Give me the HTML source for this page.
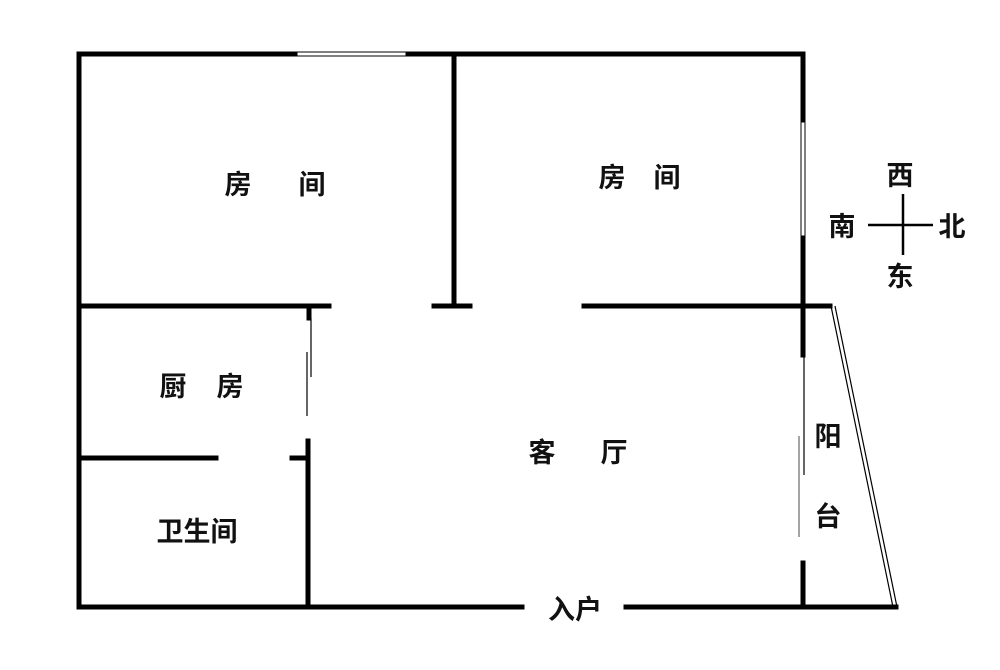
<!DOCTYPE html>
<html><head><meta charset="utf-8"><style>
html,body{margin:0;padding:0;background:#fff;width:1000px;height:670px;overflow:hidden}
text{font-family:"Liberation Sans","Noto Sans CJK SC",sans-serif;font-weight:bold;font-size:27px;fill:#111;text-anchor:middle;dominant-baseline:central}
</style></head><body>
<svg width="1000" height="670" viewBox="0 0 1000 670" xmlns="http://www.w3.org/2000/svg">
<g stroke="#000" stroke-width="5" fill="none" stroke-linecap="square">
<line x1="79" y1="54" x2="297" y2="54"/>
<line x1="406" y1="54" x2="803" y2="54"/>
<line x1="79" y1="54" x2="79" y2="607"/>
<line x1="803" y1="54" x2="803" y2="122"/>
<line x1="803" y1="236" x2="803" y2="355"/>
<line x1="803" y1="563" x2="803" y2="607"/>
<line x1="79" y1="306" x2="329" y2="306"/>
<line x1="434" y1="306" x2="470" y2="306"/>
<line x1="584" y1="306" x2="830" y2="306"/>
<line x1="454" y1="54" x2="454" y2="306"/>
<line x1="309" y1="306" x2="309" y2="318"/>
<line x1="308" y1="441" x2="308" y2="607"/>
<line x1="79" y1="458" x2="216" y2="458"/>
<line x1="292" y1="458" x2="308" y2="458"/>
<line x1="79" y1="607" x2="522" y2="607"/>
<line x1="626" y1="607" x2="896" y2="607"/>
</g>
<rect x="297" y="52" width="109" height="4" fill="#fff" stroke="#000" stroke-width="1"/>
<rect x="801" y="122" width="4" height="114" fill="#fff" stroke="#000" stroke-width="1"/>
<g stroke="#000" stroke-width="1.2">
<line x1="311" y1="318" x2="311" y2="377"/>
<line x1="307" y1="352" x2="307" y2="416"/>
<line x1="804" y1="355" x2="804" y2="475"/>
<line x1="799" y1="436" x2="799" y2="537" stroke="#666"/>
<line x1="831" y1="306" x2="893" y2="607"/>
<line x1="835" y1="306" x2="897" y2="607"/>
<line x1="868" y1="225" x2="933" y2="225" stroke-width="2.5"/>
<line x1="903" y1="194" x2="903" y2="255" stroke-width="2.5"/>
</g>
<text x="238" y="185">房</text><text x="312" y="185">间</text>
<text x="612" y="178">房</text><text x="667" y="178">间</text>
<text x="173" y="387">厨</text><text x="230" y="387">房</text>
<text x="197" y="532">卫生间</text>
<text x="542" y="453">客</text><text x="614" y="453">厅</text>
<text x="828" y="437">阳</text><text x="828" y="517">台</text>
<text x="575" y="610">入户</text>
<text x="900" y="176">西</text><text x="842" y="227">南</text>
<text x="952" y="227">北</text><text x="900" y="277">东</text>
</svg>
</body></html>
